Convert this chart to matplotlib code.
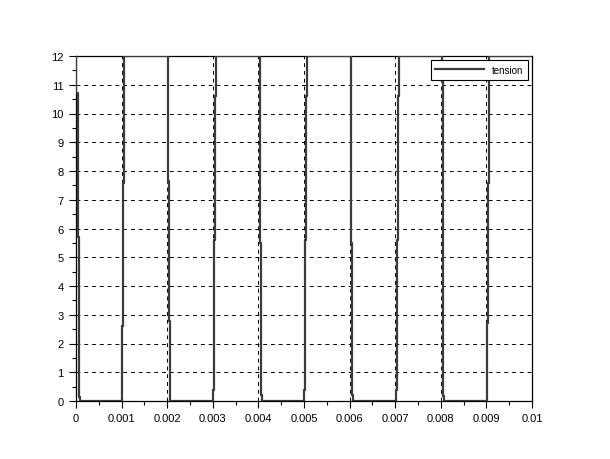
import matplotlib
matplotlib.use('Agg')
import matplotlib.pyplot as plt
from matplotlib.ticker import MultipleLocator

# sample instants (s) and held voltage (V) of the "tension" signal
t_s = [0.0, 0.0, 0.000037, 0.000059, 0.000088,
       0.001015, 0.00103, 0.001053,
       0.002011, 0.002033, 0.002068,
       0.003008, 0.00303, 0.003052, 0.003074,
       0.004026, 0.004041, 0.004055, 0.00407,
       0.005008, 0.00503, 0.005052, 0.005074,
       0.006026, 0.006041, 0.006055, 0.00607,
       0.007008, 0.00703, 0.007052, 0.007074,
       0.008026, 0.008041, 0.008055, 0.00807,
       0.00902, 0.009042, 0.009057,
       0.01]
v_s = [12, 10.7, 5.7, 0.15, 0,
       2.6, 7.6, 12,
       7.65, 2.8, 0,
       0.4, 5.6, 10.6, 12,
       11.3, 5.5, 0.2, 0,
       0.4, 5.6, 10.6, 12,
       11.3, 5.5, 0.2, 0,
       0.4, 5.6, 10.6, 12,
       11.3, 5.7, 0.17, 0,
       2.7, 7.6, 12,
       12]

xticks = [0, 0.001, 0.002, 0.003, 0.004, 0.005, 0.006, 0.007, 0.008, 0.009, 0.01]
xlabels = ['0', '0.001', '0.002', '0.003', '0.004', '0.005', '0.006', '0.007', '0.008', '0.009', '0.01']
yticks = list(range(0, 13))

plt.rcParams['font.family'] = ['Liberation Sans', 'DejaVu Sans']
fig = plt.figure(figsize=(6.1, 4.6), dpi=100)
ax = fig.add_axes([76/610, 58/460, 456/610, 345/460])

ax.plot(t_s, v_s, drawstyle='steps-post', color='#3c3c3c', lw=1.6, label='tension', zorder=3)

ax.set_xlim(0, 0.01)
ax.set_ylim(0, 12)
ax.set_xticks(xticks)
ax.set_xticklabels(xlabels)
ax.set_yticks(yticks)
ax.xaxis.set_minor_locator(MultipleLocator(0.0005))
ax.yaxis.set_minor_locator(MultipleLocator(0.5))
ax.tick_params(which='major', direction='out', length=5, width=0.8, labelsize=8, pad=4)
ax.tick_params(which='minor', direction='out', length=3, width=0.8)
ax.grid(True, which='major', color='black', linestyle=(0, (4, 4)), lw=0.7)
for s in ax.spines.values():
    s.set_linewidth(0.9)

leg = ax.legend(loc='upper right', fontsize=7, fancybox=False, framealpha=1,
                edgecolor='black', borderaxespad=0.4, handlelength=5, borderpad=0.5)
leg.get_frame().set_linewidth(0.8)

fig.savefig('out.png', dpi=100)
